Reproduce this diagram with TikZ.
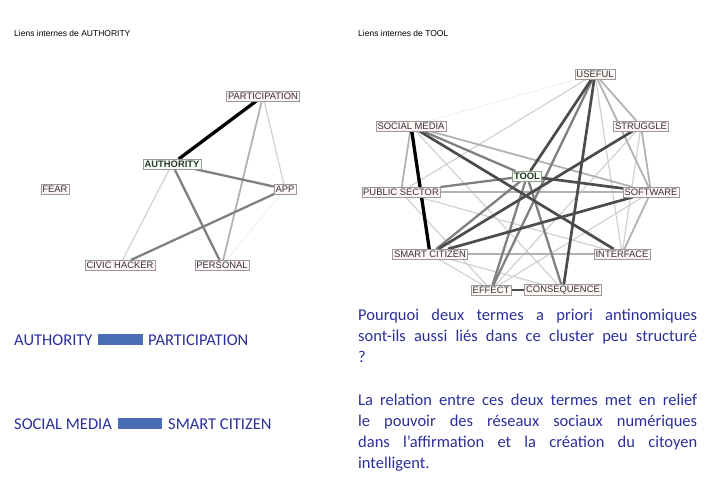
\documentclass[tikz,border=0pt]{standalone}
\usepackage{fontspec}
\setmainfont{Carlito}
\newfontfamily\nodefont{Liberation Sans}
\definecolor{txtblue}{HTML}{2B2F9A}
\definecolor{barblue}{HTML}{4A6CB3}
\begin{document}
\begin{tikzpicture}[x=1pt,y=-1pt,
  nd/.style={draw=gray!80,fill=red!4,font=\nodefont\fontsize{9.4}{10}\selectfont,text=black!80,inner sep=1.5pt},
  hub/.style={nd,fill=green!6,font=\nodefont\bfseries\fontsize{9.4}{10}\selectfont},
  ttl/.style={font=\nodefont\fontsize{8.5}{9}\selectfont,anchor=west,inner sep=0},
  e1/.style={line width=3.3pt,black},
  e2/.style={line width=2.7pt,black!70},
  e3/.style={line width=2.3pt,black!50},
  e4/.style={line width=1.8pt,black!30},
  e5/.style={line width=1.2pt,black!18},
  e6/.style={line width=0.7pt,black!8},
  bt/.style={font=\fontsize{16.5}{21}\selectfont,text=txtblue,inner sep=0},
  bar/.style={fill=barblue,draw=none}]
\useasboundingbox (0,0) rectangle (711,492);
\node[ttl] (t1) at (14,33) {Liens internes de AUTHORITY};
\node[ttl] (t2) at (358,33) {Liens internes de TOOL};
% left graph
\node[nd] (part) at (263,96) {PARTICIPATION};
\node[hub] (auth) at (172,164) {AUTHORITY};
\node[nd] (fear) at (55,189) {FEAR};
\node[nd] (app) at (285,189) {APP};
\node[nd] (civ) at (120,265) {CIVIC HACKER};
\node[nd] (pers) at (222,265) {PERSONAL};
\draw[e6] (app) -- (pers);
\draw[e5] (part) -- (app);
\draw[e5] (auth) -- (civ);
\draw[e4] (part) -- (pers);
\draw[e3] (auth) -- (app);
\draw[e3] (auth) -- (pers);
\draw[e3] (app) -- (civ);
\draw[e1] (auth) -- (part);
% right graph
\node[nd] (use) at (595,74) {USEFUL};
\node[nd] (sm) at (411,126) {SOCIAL MEDIA};
\node[nd] (str) at (641,126) {STRUGGLE};
\node[hub] (tool) at (527,176) {TOOL};
\node[nd] (ps) at (401,192) {PUBLIC SECTOR};
\node[nd] (sw) at (651,192) {SOFTWARE};
\node[nd] (sc) at (430,254) {SMART CITIZEN};
\node[nd] (int) at (622,254) {INTERFACE};
\node[nd] (eff) at (491,290) {EFFECT};
\node[nd] (con) at (563,290) {CONSEQUENCE};
\draw[e6] (use) -- (sm);
\draw[e5] (use) -- (int);
\draw[e5] (use) -- (ps);
\draw[e5] (sm) -- (con);
\draw[e5] (str) -- (eff);
\draw[e5] (str) -- (int);
\draw[e5] (sw) -- (eff);
\draw[e5] (ps) -- (int);
\draw[e5] (ps) -- (eff);
\draw[e5] (sc) -- (eff);
\draw[e5] (sc) -- (con);
\draw[e4] (use) -- (sw);
\draw[e4] (sw) -- (ps);
\draw[e4] (use) -- (str);
\draw[e4] (str) -- (sw);
\draw[e4] (sw) -- (int);
\draw[e4] (sm) -- (ps);
\draw[e4] (sm) -- (sw);
\draw[e4] (sc) -- (int);
\draw[e3] (use) -- (eff);
\draw[e3] (sm) -- (tool);
\draw[e3] (tool) -- (ps);
\draw[e3] (tool) -- (sc);
\draw[e3] (tool) -- (eff);
\draw[e3] (tool) -- (con);
\draw[e2] (sm) -- (int);
\draw[e2] (tool) -- (sw);
\draw[e2] (str) -- (sc);
\draw[e2] (sw) -- (sc);
\draw[e2] (use) -- (con);
\draw[e2] (use) -- (tool);
\draw[e2] (eff) -- (con);
\draw[e1] (sm) -- (sc);
% redraw nodes on top
\foreach \n/\t in {use/USEFUL,sm/SOCIAL MEDIA,str/STRUGGLE,ps/PUBLIC SECTOR,sw/SOFTWARE,sc/SMART CITIZEN,int/INTERFACE,eff/EFFECT,con/CONSEQUENCE,part/PARTICIPATION,app/APP,civ/CIVIC HACKER,pers/PERSONAL}
  \node[nd] at (\n) {\t};
\node[hub] at (tool) {TOOL};
\node[hub] at (auth) {AUTHORITY};
% bottom texts
\node[bt,anchor=west] (a1) at (14,340) {AUTHORITY};
\fill[bar] (98,334) rectangle (143,345);
\node[bt,anchor=west] (a2) at (148,340) {PARTICIPATION};
\node[bt,anchor=west] (s1) at (14,424) {SOCIAL MEDIA};
\fill[bar] (118,418) rectangle (162,429);
\node[bt,anchor=west] (s2) at (168,424) {SMART CITIZEN};
\node[bt,anchor=north west,text width=339pt,align=justify] (p1) at (358,309)
 {Pourquoi deux termes a priori antinomiques\linebreak sont-ils aussi liés dans ce cluster peu structuré\linebreak ?};
\node[bt,anchor=north west,text width=339pt,align=justify] (p2) at (358,394)
 {La relation entre ces deux termes met en relief\linebreak le pouvoir des réseaux sociaux numériques\linebreak dans l’affirmation et la création du citoyen\linebreak intelligent.};
\end{tikzpicture}
\end{document}
